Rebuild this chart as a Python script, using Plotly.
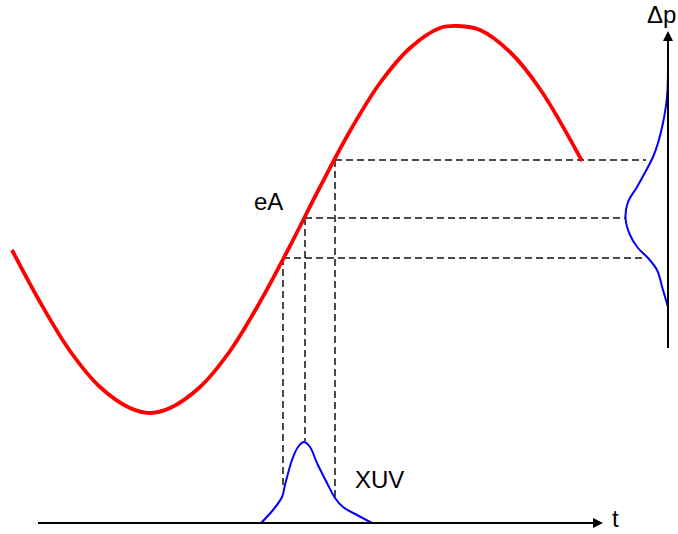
import plotly.graph_objects as go

# ---- data (schematic units: horizontal = time, vertical = eA / Δp) ----
t_field = [12, 40, 70, 100, 130, 150, 170, 200, 230, 260, 290, 320, 350, 380,
           410, 440, 458, 480, 510, 540, 582]
eA_field = [250, 302, 351, 387, 408, 413, 408, 387, 351, 302, 246, 187, 131, 83,
            48, 28, 26, 30, 52, 89, 161]

t_xuv = [261, 273, 282, 285, 292, 298, 304, 310, 317, 327, 335, 343, 357, 372]
I_xuv = [523, 510, 497, 485, 460, 447, 442, 447, 463, 483, 498, 507, 515, 523]

dp_x = [668, 667, 663, 658, 653, 642, 637, 628, 625.5, 630, 638, 648, 657, 663, 668]
dp_y = [70, 97, 123, 143, 157, 178, 187, 202, 218, 235, 248, 258, 270, 290, 307]

# sampled times (early, centre, late) and the matching momenta
t_samples = [283, 305, 335]
p_samples = [258, 218, 160]
xuv_at_samples = [485, 441, 498]
dp_at_samples = [646, 625, 646]

labels = {"field": "eA", "pulse": "XUV", "time": "t", "mom": "Δp"}

fig = go.Figure()

dash_style = dict(color="#111111", width=1.5, dash="7px,4px")
for ts, ps, xs, ds in zip(t_samples, p_samples, xuv_at_samples, dp_at_samples):
    fig.add_trace(go.Scatter(x=[ts, ts], y=[ps, xs], mode="lines", line=dash_style,
                             hoverinfo="skip"))
    fig.add_trace(go.Scatter(x=[ts, ds], y=[ps, ps], mode="lines", line=dash_style,
                             hoverinfo="skip"))

fig.add_trace(go.Scatter(x=t_field, y=eA_field, mode="lines",
                         line=dict(color="#ff0000", width=3.8, shape="spline")))
fig.add_trace(go.Scatter(x=t_xuv, y=I_xuv, mode="lines",
                         line=dict(color="#0000ff", width=2, shape="spline")))
fig.add_trace(go.Scatter(x=dp_x, y=dp_y, mode="lines",
                         line=dict(color="#0000ff", width=2, shape="spline")))

# axes (time axis and momentum axis) with arrows
fig.add_trace(go.Scatter(x=[38, 598], y=[523, 523], mode="lines",
                         line=dict(color="black", width=2)))
fig.add_trace(go.Scatter(x=[668, 668], y=[348, 36], mode="lines",
                         line=dict(color="black", width=2)))
fig.add_annotation(x=603, y=523, ax=590, ay=523, xref="x", yref="y", axref="x", ayref="y",
                   showarrow=True, arrowhead=2, arrowsize=1, arrowwidth=2, arrowcolor="black", text="")
fig.add_annotation(x=668, y=31, ax=668, ay=44, xref="x", yref="y", axref="x", ayref="y",
                   showarrow=True, arrowhead=2, arrowsize=1, arrowwidth=2, arrowcolor="black", text="")

font = dict(family="Liberation Sans, Arial, sans-serif", size=24, color="black")
fig.add_annotation(x=268, y=201, text=labels["field"], showarrow=False, font=font,
                   xanchor="center", yanchor="middle")
fig.add_annotation(x=379, y=479, text=labels["pulse"], showarrow=False, font=font,
                   xanchor="center", yanchor="middle")
fig.add_annotation(x=615, y=518, text=labels["time"], showarrow=False, font=font,
                   xanchor="center", yanchor="middle")
fig.add_annotation(x=661, y=14, text=labels["mom"], showarrow=False, font=font,
                   xanchor="center", yanchor="middle")

fig.update_layout(
    width=678, height=534, margin=dict(l=0, r=0, t=0, b=0),
    paper_bgcolor="white", plot_bgcolor="white", showlegend=False,
    xaxis=dict(range=[0, 678], visible=False, fixedrange=True),
    yaxis=dict(range=[534, 0], visible=False, fixedrange=True),
)

fig.write_html("out.html")
